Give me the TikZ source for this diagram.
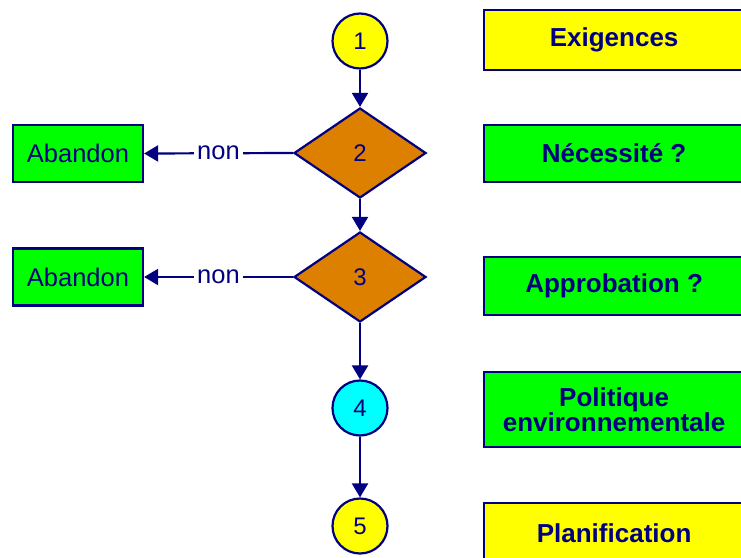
\documentclass[tikz,border=0pt]{standalone}
\usepackage{fontspec}
\setmainfont{Liberation Sans}
\usetikzlibrary{positioning,shapes.geometric,arrows.meta}
\tikzstyle{diagram} = [x = 1pt, y = -1pt]
\definecolor{lineColor}{RGB}{0,0,128}
\definecolor{decisionColor}{RGB}{221,128,0}
\definecolor{stepGreen}{RGB}{0,255,0}
\definecolor{stepYellow}{RGB}{255,255,0}
\definecolor{stepCyan}{RGB}{0,255,255}
\tikzstyle{lineStyle} = [draw=lineColor, line width=2.2pt]
\tikzstyle{stepCircle} = [lineStyle, circle, minimum size=55pt, inner sep=0pt, text=lineColor, font=\fontsize{24}{26}\selectfont]
\tikzstyle{decisionStyle} = [lineStyle, diamond, fill=decisionColor, minimum width=132pt, minimum height=90pt, inner sep=0pt, text=lineColor, font=\fontsize{24}{26}\selectfont]
\tikzstyle{labelBoxStyle} = [lineStyle, rectangle, anchor=west, minimum width=260pt, align=center, text=lineColor, font=\bfseries\fontsize{26}{28}\selectfont]
\tikzstyle{abandonStyle} = [lineStyle, rectangle, fill=stepGreen, minimum width=130pt, minimum height=57pt, text=lineColor, font=\fontsize{25.5}{28}\selectfont]
\tikzstyle{flowArrow} = [lineStyle, -{Triangle[width=16pt, length=14pt]}]
\tikzstyle{noLabel} = [fill=white, inner sep=3pt, text=lineColor, font=\fontsize{25.5}{28}\selectfont, text height=13pt, text depth=1pt, midway]
\newcommand{\labelBox}[5]{\node [labelBoxStyle, fill=#2, minimum height=#4] (#1) at (483, #3) {#5};}
\newcommand{\abandonLink}[2]{\draw [flowArrow] (#1.west) -- node [noLabel] {non} (#2.east);}

\begin{document}
\begin{tikzpicture}[diagram]
        \useasboundingbox (0,0) rectangle (741,557);
        % steps
        \node [stepCircle, fill=stepYellow] (stepOne) at (360,41) {1};
        \node [decisionStyle] (stepTwo) at (360,153) {2};
        \node [decisionStyle] (stepThree) at (360,277) {3};
        \node [stepCircle, fill=stepCyan] (stepFour) at (360,408) {4};
        \node [stepCircle, fill=stepYellow] (stepFive) at (360,526) {5};
        % abandon
        \node [abandonStyle] (abandonTwo) at (78,153.5) {Abandon};
        \node [abandonStyle] (abandonThree) at (78,277) {Abandon};
        % labels
        \labelBox{exigences}{stepYellow}{40}{60pt}{Exigences}
        \labelBox{necessite}{stepGreen}{153.5}{57pt}{Nécessité ?}
        \labelBox{approbation}{stepGreen}{286}{58pt}{Approbation ?}
        \labelBox{politique}{stepGreen}{409.5}{75pt}{Politique\\[-3pt]environnementale}
        \labelBox{planification}{stepYellow}{533}{60pt}{Planification}
        % links
        \draw [flowArrow] (stepOne) -- (stepTwo);
        \draw [flowArrow] (stepTwo) -- (stepThree);
        \draw [flowArrow] (stepThree) -- (stepFour);
        \draw [flowArrow] (stepFour) -- (stepFive);
        \abandonLink{stepTwo}{abandonTwo}
        \abandonLink{stepThree}{abandonThree}
      \end{tikzpicture}
\end{document}
